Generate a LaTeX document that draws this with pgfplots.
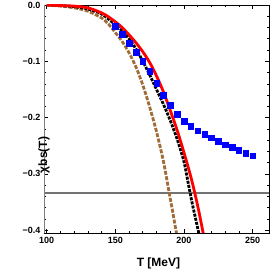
\documentclass[border=0pt]{standalone}
\usepackage{fontspec}
\setmainfont{Liberation Sans}
\usepackage{pgfplots}
\pgfplotsset{compat=1.18}
\definecolor{mbrown}{RGB}{160,108,55}
\begin{document}
\begin{tikzpicture}
\useasboundingbox (-44pt,-37pt) rectangle (229pt,233pt);
\begin{axis}[
 at={(0,0)}, anchor=south west,
 width=225pt, height=228pt, scale only axis,
 xmin=98, xmax=262, ymin=-0.405, ymax=0,
 xtick={100,150,200,250}, xticklabels={100,150,200,250},
 minor x tick num=4,
 ytick={-0.4,-0.3,-0.2,-0.1,0}, yticklabels={−0.4,−0.3,−0.2,−0.1,0.0},
 minor y tick num=4,
 tick align=inside, major tick length=4pt, minor tick length=2pt,
 tick style={black, line width=0.6pt},
 axis line style={black, line width=0.8pt},
 ticklabel style={font=\fontsize{9}{9}\selectfont\bfseries},
 xticklabel style={yshift=-1pt},
 xlabel={T [MeV]}, ylabel={χbs(T)},
 label style={font=\fontsize{12}{12}\selectfont\bfseries},
 xlabel style={at={(rel axis cs:0.5,0)}, anchor=center, yshift=-30pt, xshift=2pt},
 ylabel style={at={(rel axis cs:0,0.5)}, anchor=center, xshift=-36pt},
]
\addplot[gray!90!black, line width=1.8pt] coordinates {(98,-0.3333) (262,-0.3333)};
\addplot[mbrown, line width=2.8pt, dash pattern=on 4pt off 1.5pt, smooth] coordinates {
(100,0) (110,-0.002) (120,-0.005) (130,-0.011) (140,-0.023) (145,-0.034) (150,-0.049) (155,-0.065) (160,-0.085) (165,-0.110) (170,-0.142) (175,-0.181) (180,-0.225) (185,-0.277) (189,-0.330) (192,-0.370) (195,-0.412)};
\addplot[black, line width=2.8pt, dash pattern=on 3pt off 1.2pt, smooth] coordinates {
(100,0) (110,-0.001) (120,-0.003) (130,-0.007) (140,-0.016) (150,-0.035) (155,-0.046) (160,-0.060) (165,-0.078) (170,-0.100) (175,-0.124) (180,-0.150) (185,-0.176) (190,-0.205) (195,-0.238) (200,-0.278) (203,-0.315) (206,-0.352) (209,-0.385) (212,-0.418)};
\addplot[only marks, mark=square*, mark size=2.8pt, blue, mark options={draw=blue, fill=blue}] coordinates {
(150,-0.038) (155,-0.052) (160,-0.068) (165,-0.084) (170,-0.100) (175,-0.118) (180,-0.139) (185,-0.160) (190,-0.178) (195,-0.194) (200,-0.206) (205,-0.215) (210,-0.223) (215,-0.230) (220,-0.236) (225,-0.242) (230,-0.248) (235,-0.253) (240,-0.258) (245,-0.263) (250,-0.268)};
\addplot[red, line width=2.8pt, smooth] coordinates {
(100,0) (110,-0.001) (120,-0.002) (130,-0.005) (140,-0.014) (145,-0.021) (150,-0.030) (155,-0.040) (160,-0.053) (165,-0.067) (170,-0.083) (175,-0.102) (180,-0.126) (185,-0.154) (190,-0.187) (195,-0.222) (200,-0.262) (205,-0.305) (208,-0.335) (211,-0.368) (214,-0.405) (215,-0.418)};
\draw[gray, line width=1pt] (rel axis cs:0,0) -- (rel axis cs:0,1);
\end{axis}
\end{tikzpicture}
\end{document}
